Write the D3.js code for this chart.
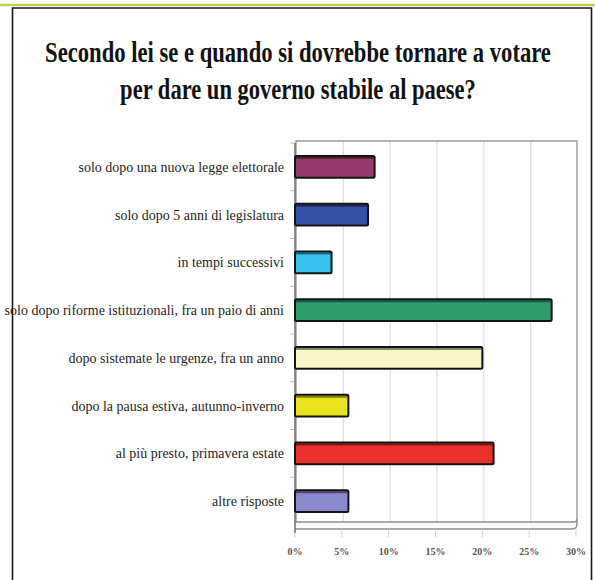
<!DOCTYPE html>
<html>
<head>
<meta charset="utf-8">
<script src="https://cdn.jsdelivr.net/npm/d3@7"></script>
<style>
  html, body { margin: 0; padding: 0; background: #fff; }
  svg { display: block; }
</style>
</head>
<body>
<svg id="chart" width="595" height="580"></svg>
<script>
// Risposte alla domanda e percentuali
const categories = [
  "solo dopo una nuova legge elettorale",
  "solo dopo 5 anni di legislatura",
  "in tempi successivi",
  "solo dopo riforme istituzionali, fra un paio di anni",
  "dopo sistemate le urgenze, fra un anno",
  "dopo la pausa estiva, autunno-inverno",
  "al più presto, primavera estate",
  "altre risposte"
];
const values = [8.5, 7.8, 3.9, 27.4, 20.0, 5.7, 21.2, 5.7];
const barColors = ["#983a6c", "#3650a6", "#38c2ee", "#2f9e6c", "#f8f6c6", "#e9e21e", "#e9302a", "#8a89cc"];
const tickValues = [0, 5, 10, 15, 20, 25, 30];
const titleLines = [
  "Secondo lei se e quando si dovrebbe tornare a votare",
  "per dare un governo stabile al paese?"
];

const svg = d3.select("#chart");

// cornice della pagina
svg.append("line").attr("x1", 0).attr("x2", 595).attr("y1", 5).attr("y2", 5)
  .attr("stroke", "#c6cf45").attr("stroke-width", 2.5);
svg.append("path").attr("d", "M12.5,590 V8 H591.5 V590")
  .attr("fill", "none").attr("stroke", "#1a1a1a").attr("stroke-width", 1.6);

// titolo: carattere stretto orizzontalmente fino alla larghezza voluta
const titleWidths = [506, 356];
svg.selectAll("text.title").data(titleLines).join("text")
  .attr("class", "title")
  .attr("text-anchor", "middle")
  .attr("font-family", "'Liberation Serif', 'Times New Roman', serif")
  .attr("font-weight", "bold")
  .attr("font-size", 29)
  .attr("fill", "#111")
  .text(d => d)
  .each(function (d, i) {
    const w = this.getComputedTextLength();
    const sx = titleWidths[i] / w;
    d3.select(this).attr("transform", `translate(298,${62 + i * 37}) scale(${sx},1)`);
  });

// scale
const x = d3.scaleLinear().domain([0, 30]).range([295, 576]);
const y = d3.scaleBand().domain(categories).range([143, 525]).paddingInner(0.54).paddingOuter(0.27);
const plotTop = 141, floorTop = 522, floorBottom = 529;

// griglia verticale
svg.append("g").selectAll("line").data(tickValues.slice(1, -1)).join("line")
  .attr("x1", d => x(d) + 1.5).attr("x2", d => x(d) + 1.5)
  .attr("y1", plotTop).attr("y2", floorTop)
  .attr("stroke", "#dcdcdc").attr("stroke-width", 1.2);

// cornice dell'area del grafico
svg.append("path")
  .attr("d", `M${x(0) + 1},${floorTop} V${plotTop} H${x(30) + 1} V${floorTop - 3}`)
  .attr("fill", "none").attr("stroke", "#9a9a9a").attr("stroke-width", 1.4);

// pavimento
svg.append("path")
  .attr("d", `M${x(0)},${floorTop} H${x(30) - 2} Q${x(30) + 1},${floorTop} ${x(30) + 1},${floorTop - 3} V${floorBottom - 5} Q${x(30) + 1},${floorBottom} ${x(30) - 4},${floorBottom} H${x(0)}`)
  .attr("fill", "#fafafa").attr("stroke", "#8d8d8d").attr("stroke-width", 1.4);

// tacche sull'asse x
svg.append("g").selectAll("line").data(tickValues).join("line")
  .attr("x1", d => x(d)).attr("x2", d => x(d))
  .attr("y1", floorBottom).attr("y2", floorBottom + 8)
  .attr("stroke", "#cfcfcf").attr("stroke-width", 1);

// tacche sull'asse delle categorie
const bounds = categories.map(c => y(c) - y.step() * y.paddingInner() / 2);
svg.append("g").selectAll("line").data(bounds).join("line")
  .attr("x1", x(0) - 5).attr("x2", x(0))
  .attr("y1", d => d).attr("y2", d => d)
  .attr("stroke", "#bdbdbd").attr("stroke-width", 1);

// asse verticale
svg.append("line").attr("x1", x(0)).attr("x2", x(0))
  .attr("y1", plotTop + 2).attr("y2", floorBottom + 4)
  .attr("stroke", "#777").attr("stroke-width", 1.6);

// barre
svg.append("g").selectAll("rect").data(categories).join("rect")
  .attr("x", x(0))
  .attr("y", d => y(d))
  .attr("width", (d, i) => x(values[i]) - x(0))
  .attr("height", y.bandwidth())
  .attr("rx", 1.5)
  .attr("fill", (d, i) => barColors[i])
  .attr("stroke", "#141414").attr("stroke-width", 2);

// bordo superiore scuro delle barre
svg.append("g").selectAll("line").data(categories).join("line")
  .attr("x1", x(0) + 1).attr("x2", (d, i) => x(values[i]) - 1)
  .attr("y1", d => y(d) + 2).attr("y2", d => y(d) + 2)
  .attr("stroke", "#000").attr("stroke-opacity", 0.45).attr("stroke-width", 2);

// etichette delle categorie
svg.append("g").selectAll("text").data(categories).join("text")
  .attr("text-anchor", "end")
  .attr("transform", d => `translate(284,${y(d) + y.bandwidth() / 2 + 5}) scale(1,1.08)`)
  .attr("font-family", "'Liberation Serif', 'Times New Roman', serif")
  .attr("font-size", 14)
  .attr("fill", "#1e1e1e")
  .text(d => d);

// etichette dell'asse x
svg.append("g").selectAll("text").data(tickValues).join("text")
  .attr("x", d => x(d))
  .attr("y", 555)
  .attr("text-anchor", "middle")
  .attr("font-family", "'Liberation Serif', 'Times New Roman', serif")
  .attr("font-weight", "bold")
  .attr("font-size", 10)
  .attr("fill", "#555")
  .text(d => d + "%");
</script>
</body>
</html>
